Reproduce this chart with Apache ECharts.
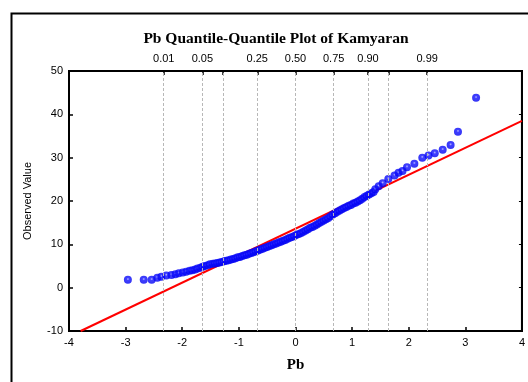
<!DOCTYPE html>
<html><head><meta charset="utf-8">
<script src="https://cdn.jsdelivr.net/npm/echarts@6/dist/echarts.min.js"></script>
<style>html,body{margin:0;padding:0;background:#fff}#c{width:528px;height:382px}</style>
</head><body><div id="c"></div>
<script>
const theoQ = [-2.96,-2.68,-2.54,-2.44,-2.37,-2.28,-2.19,-2.12,-2.06,-1.99,-1.93,-1.87,-1.82,-1.77,-1.73,-1.68,-1.64,-1.60,-1.55,-1.51,-1.46,-1.42,-1.38,-1.34,-1.30,-1.26,-1.22,-1.18,-1.14,-1.10,-1.06,-1.02,-0.98,-0.94,-0.90,-0.86,-0.82,-0.78,-0.74,-0.70,-0.66,-0.62,-0.58,-0.54,-0.50,-0.46,-0.42,-0.38,-0.34,-0.30,-0.26,-0.22,-0.18,-0.14,-0.10,-0.06,-0.02,0.02,0.06,0.10,0.14,0.18,0.22,0.26,0.30,0.34,0.38,0.42,0.46,0.50,0.54,0.58,0.62,0.66,0.70,0.74,0.78,0.82,0.86,0.90,0.94,0.98,1.02,1.06,1.10,1.14,1.18,1.22,1.26,1.30,1.34,1.38,1.41,1.47,1.54,1.64,1.75,1.82,1.89,1.97,2.10,2.24,2.35,2.46,2.60,2.74,2.87,3.19];
const observed = [1.8,1.8,1.8,2.3,2.5,2.8,2.9,3.1,3.3,3.5,3.7,3.9,4.0,4.2,4.4,4.6,4.8,5.0,5.2,5.4,5.5,5.6,5.7,5.8,5.9,6.1,6.2,6.3,6.5,6.6,6.8,7.0,7.1,7.3,7.5,7.6,7.8,8.0,8.2,8.4,8.6,8.8,9.0,9.2,9.4,9.6,9.8,10.0,10.2,10.4,10.6,10.8,11.0,11.3,11.5,11.7,11.9,12.2,12.4,12.6,12.9,13.2,13.5,13.8,14.0,14.3,14.6,14.9,15.2,15.5,15.8,16.1,16.5,16.9,17.2,17.5,17.8,18.1,18.4,18.6,18.9,19.1,19.4,19.6,19.9,20.2,20.5,20.9,21.2,21.5,21.8,22.1,22.7,23.4,24.1,25.1,25.9,26.5,26.9,27.8,28.6,30.0,30.5,31.0,31.8,32.9,36.0,43.8];
// Reference line end points
const refLineX = [-3.794, 4];
const refLineY = [-10, 38.5];
// Probability scale on top axis
const probValues = [-2.3263,-1.6449,-1.2816,-0.6745,0,0.6745,1.2816,1.6449,2.3263];
const probLabels = ['0.01','0.05','','0.25','0.50','0.75','0.90','','0.99'];
const xTicks = [-4,-3,-2,-1,0,1,2,3,4];
const yTicks = [-10,0,10,20,30,40,50];

const pts = theoQ.map((x,i)=>[x, observed[i]]);
const linePts = refLineX.map((x,i)=>[x, refLineY[i]]);
const labelMap = {};
probValues.forEach((v,i)=>{ labelMap[v.toFixed(4)] = probLabels[i]; });

const sans = '"Liberation Sans", Arial, sans-serif';
const serif = '"Liberation Serif", "Times New Roman", serif';

const chart = echarts.init(document.getElementById('c'));
chart.setOption({
  animation: false,
  backgroundColor: '#fff',
  graphic: [{
    type: 'rect', left: 9, top: 11, silent: true,
    shape: {x: 0, y: 0, width: 540, height: 400},
    style: {fill: 'none', stroke: '#000', lineWidth: 2}
  }],
  title: {
    text: 'Pb Quantile-Quantile Plot of Kamyaran',
    left: 271, top: 26, textAlign: 'center',
    textStyle: {fontFamily: serif, fontWeight: 'bold', fontSize: 15.5, color: '#000'}
  },
  grid: {left: 69, right: 4, top: 71, bottom: 51, show: true, borderColor: '#000', borderWidth: 2, backgroundColor: '#fff'},
  xAxis: [{
    type: 'value', position: 'bottom', min: -4, max: 4, interval: 1,
    name: 'Pb', nameLocation: 'middle', nameGap: 27,
    nameTextStyle: {fontFamily: serif, fontWeight: 'bold', fontSize: 15, color: '#000'},
    axisLine: {show: true, onZero: false, lineStyle: {color: '#000', width: 2}},
    axisTick: {show: true, inside: true, length: 4, lineStyle: {color: '#000', width: 1.5}},
    axisLabel: {fontFamily: sans, fontSize: 11, color: '#000', margin: 6},
    splitLine: {show: false}
  }, {
    type: 'value', position: 'top', min: -4, max: 4,
    axisLine: {show: true, onZero: false, lineStyle: {color: '#000', width: 2}},
    axisTick: {show: true, inside: true, length: 4, customValues: probValues, lineStyle: {color: '#000', width: 1.5}},
    axisLabel: {show: true, customValues: probValues.filter((v,i)=>probLabels[i] !== ''), fontFamily: sans, fontSize: 11, color: '#000', margin: 7,
      formatter: v => labelMap[Number(v).toFixed(4)] || ''},
    splitLine: {show: false}
  }],
  yAxis: [{
    type: 'value', position: 'left', min: -10, max: 50, interval: 10,
    name: 'Observed Value', nameLocation: 'middle', nameGap: 36, nameRotate: 90,
    nameTextStyle: {fontFamily: sans, fontSize: 11, color: '#000'},
    axisLine: {show: true, onZero: false, lineStyle: {color: '#000', width: 2}},
    axisTick: {show: true, inside: true, length: 4, lineStyle: {color: '#000', width: 1.5}},
    axisLabel: {fontFamily: sans, fontSize: 11, color: '#000', margin: 6},
    splitLine: {show: false}
  }, {
    type: 'value', position: 'right', min: -10, max: 50, interval: 10,
    axisLine: {show: true, onZero: false, lineStyle: {color: '#000', width: 2}},
    axisTick: {show: true, inside: true, length: 3, lineStyle: {color: '#000', width: 1}},
    axisLabel: {show: false},
    splitLine: {show: false}
  }],
  series: [{
    type: 'line', xAxisIndex: 0, yAxisIndex: 0, data: linePts,
    symbol: 'none', silent: true, z: 3,
    lineStyle: {color: '#ff0000', width: 2},
    markLine: {
      silent: true, symbol: 'none', label: {show: false},
      lineStyle: {color: '#b8b8b8', type: [3, 2], width: 1},
      data: probValues.map(v => ({xAxis: v}))
    }
  }, {
    type: 'scatter', xAxisIndex: 0, yAxisIndex: 0, data: pts,
    symbol: 'circle', symbolSize: 8, z: 4,
    itemStyle: {
      color: new echarts.graphic.RadialGradient(0.5, 0.4, 0.6, [
        {offset: 0, color: '#a8a8ff'},
        {offset: 0.3, color: '#1010ff'},
        {offset: 1, color: '#0000f0'}
      ])
    }
  }]
});
</script></body></html>
